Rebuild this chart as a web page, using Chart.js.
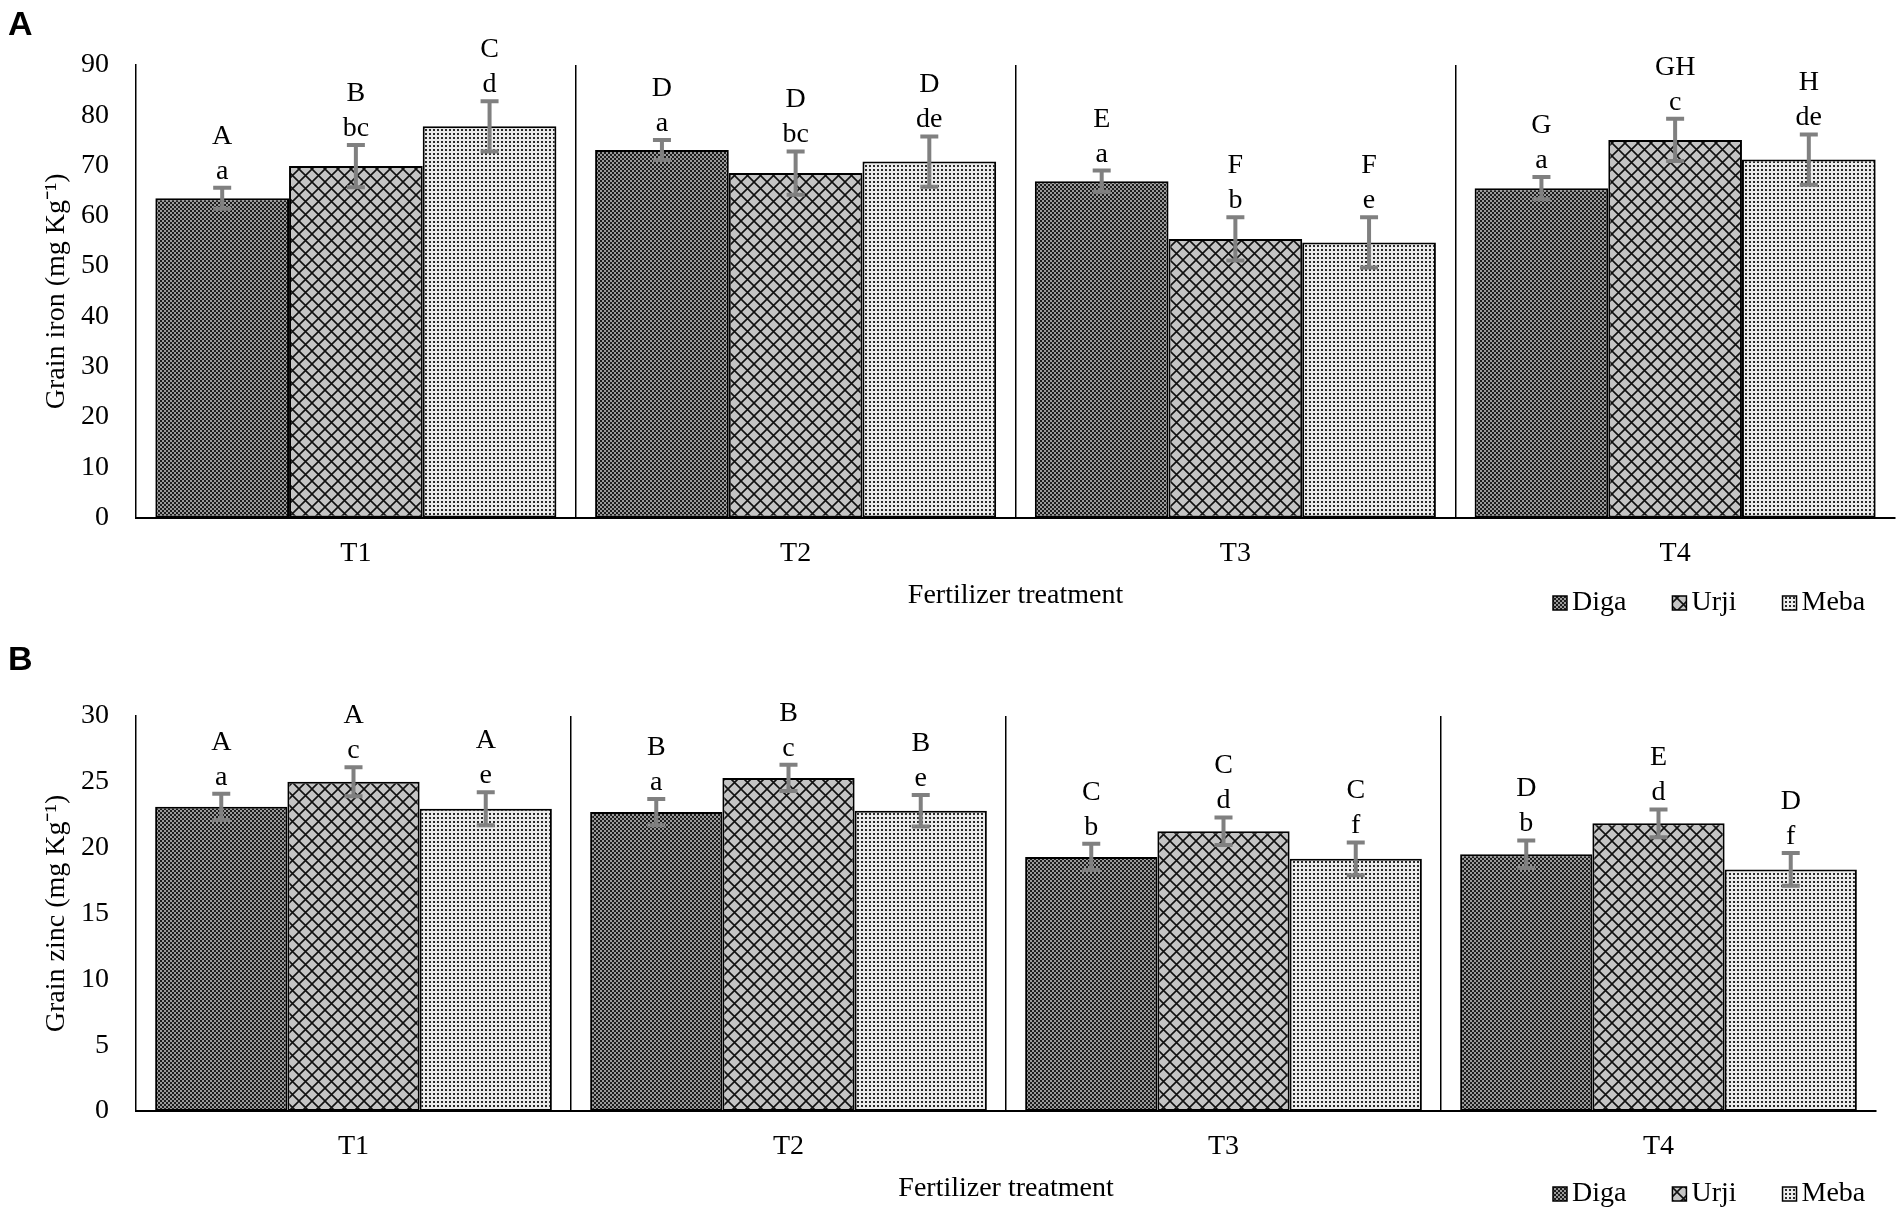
<!DOCTYPE html>
<html>
<head>
<meta charset="utf-8">
<script src="https://cdn.jsdelivr.net/npm/chart.js@4.4.1/dist/chart.umd.min.js"></script>
<style>
  body { margin: 0; background: #fff; }
  #page { position: relative; width: 1902px; height: 1216px; background: #fff; overflow: hidden; }
  .panel { position: absolute; left: 0; width: 1902px; }
  #panelA { top: 0; height: 620px; }
  #panelB { top: 620px; height: 596px; }
  .tag { position: absolute; left: 8px; font: bold 34px 'Liberation Sans', Arial, sans-serif; line-height: 34px; color: #000; }
</style>
</head>
<body>
<div id="page">
  <div class="panel" id="panelA"><canvas id="ironChart"></canvas></div>
  <div class="panel" id="panelB"><canvas id="zincChart"></canvas></div>
  <div class="tag" style="top:6px">A</div>
  <div class="tag" style="top:641px">B</div>
</div>
<script>
// categories and series
const treatments = ['T1', 'T2', 'T3', 'T4'];
const varieties = ['Diga', 'Urji', 'Meba'];

// grain iron (mg/kg) with error bars and letters
const ironDiga = [63.5, 73.1, 66.9, 65.5];
const ironUrji = [69.9, 68.5, 55.4, 75.1];
const ironMeba = [77.8, 70.8, 54.7, 71.2];
const ironDigaErr = [2.1, 2.0, 2.1, 2.2];
const ironUrjiErr = [4.2, 4.3, 4.3, 4.2];
const ironMebaErr = [5.0, 5.0, 5.0, 5.0];
const ironDigaUpper = ['A', 'D', 'E', 'G'];
const ironUrjiUpper = ['B', 'D', 'F', 'GH'];
const ironMebaUpper = ['C', 'D', 'F', 'H'];
const ironDigaLower = ['a', 'a', 'a', 'a'];
const ironUrjiLower = ['bc', 'bc', 'b', 'c'];
const ironMebaLower = ['d', 'de', 'e', 'de'];
const ironTicks = [0, 10, 20, 30, 40, 50, 60, 70, 80, 90];

// grain zinc (mg/kg)
const zincDiga = [23.1, 22.7, 19.3, 19.5];
const zincUrji = [25.0, 25.3, 21.25, 21.85];
const zincMeba = [22.95, 22.8, 19.15, 18.35];
const zincDigaErr = [1.0, 1.0, 1.0, 1.05];
const zincUrjiErr = [1.1, 1.0, 1.05, 1.05];
const zincMebaErr = [1.25, 1.2, 1.25, 1.25];
const zincDigaUpper = ['A', 'B', 'C', 'D'];
const zincUrjiUpper = ['A', 'B', 'C', 'E'];
const zincMebaUpper = ['A', 'B', 'C', 'D'];
const zincDigaLower = ['a', 'a', 'b', 'b'];
const zincUrjiLower = ['c', 'c', 'd', 'd'];
const zincMebaLower = ['e', 'e', 'f', 'f'];
const zincTicks = [0, 5, 10, 15, 20, 25, 30];

const SERIF = "'Liberation Serif', 'Times New Roman', serif";
const FONT_PX = 28;

function tile(w, h, paint) {
  const c = document.createElement('canvas');
  c.width = w;
  c.height = h;
  paint(c.getContext('2d'));
  return c;
}

// fill patterns, roughly like the Excel ones
function makePatterns(ctx) {
  const diga = tile(8, 8, g => {
    g.fillStyle = '#9a9a9a';
    g.fillRect(0, 0, 8, 8);
    g.fillStyle = '#1c1c1c';
    for (let y = 0; y < 4; y++) {
      for (let x = 0; x < 4; x++) {
        if ((x + y) % 2 === 0) g.fillRect(x * 2, y * 2, 2, 2);
      }
    }
  });
  const urji = tile(13, 13, g => {
    g.fillStyle = '#c4c4c4';
    g.fillRect(0, 0, 13, 13);
    g.strokeStyle = '#111';
    g.lineWidth = 1.6;
    g.beginPath();
    g.moveTo(-1, -1); g.lineTo(14, 14);
    g.moveTo(14, -1); g.lineTo(-1, 14);
    g.stroke();
  });
  const meba = tile(4, 4, g => {
    g.fillStyle = '#ececec';
    g.fillRect(0, 0, 4, 4);
    g.fillStyle = '#2a2a2a';
    g.fillRect(1, 1, 2, 2);
  });
  return [diga, urji, meba].map(c => ctx.createPattern(c, 'repeat'));
}

// error bars drawn from the dataset values through the y scale
const errorBars = {
  id: 'errorBars',
  afterDatasetsDraw(chart) {
    const ctx = chart.ctx;
    const y = chart.scales.y;
    ctx.save();
    ctx.strokeStyle = '#808080';
    ctx.lineWidth = 4;
    chart.data.datasets.forEach((ds, i) => {
      chart.getDatasetMeta(i).data.forEach((bar, j) => {
        const top = y.getPixelForValue(ds.data[j] + ds.errors[j]);
        const bot = y.getPixelForValue(ds.data[j] - ds.errors[j]);
        ctx.beginPath();
        ctx.moveTo(bar.x, top); ctx.lineTo(bar.x, bot);
        ctx.moveTo(bar.x - 9, top); ctx.lineTo(bar.x + 9, top);
        ctx.moveTo(bar.x - 9, bot); ctx.lineTo(bar.x + 9, bot);
        ctx.stroke();
      });
    });
    ctx.restore();
  }
};

// significance letters above each error bar
const letters = {
  id: 'letters',
  afterDatasetsDraw(chart) {
    const ctx = chart.ctx;
    const y = chart.scales.y;
    ctx.save();
    ctx.font = FONT_PX + 'px ' + SERIF;
    ctx.fillStyle = '#000';
    ctx.textAlign = 'center';
    ctx.textBaseline = 'alphabetic';
    chart.data.datasets.forEach((ds, i) => {
      chart.getDatasetMeta(i).data.forEach((bar, j) => {
        const top = y.getPixelForValue(ds.data[j] + ds.errors[j]);
        ctx.fillText(ds.lower[j], bar.x, top - 9);
        ctx.fillText(ds.upper[j], bar.x, top - 44);
      });
    });
    ctx.restore();
  }
};

// legend sitting on the same row as the axis title
const sideLegend = {
  id: 'sideLegend',
  afterDraw(chart, args, opts) {
    const ctx = chart.ctx;
    ctx.save();
    ctx.font = FONT_PX + 'px ' + SERIF;
    ctx.textBaseline = 'middle';
    ctx.textAlign = 'left';
    let x = opts.x;
    chart.data.datasets.forEach(ds => {
      ctx.fillStyle = ds.backgroundColor;
      ctx.fillRect(x, opts.y - 7, 14, 14);
      ctx.strokeStyle = '#000';
      ctx.lineWidth = 1.5;
      ctx.strokeRect(x, opts.y - 7, 14, 14);
      ctx.fillStyle = '#000';
      ctx.fillText(ds.label, x + 19, opts.y);
      x += 19 + ctx.measureText(ds.label).width + 46;
    });
    ctx.restore();
  }
};

function renderPanel(canvasId, p) {
  const canvas = document.getElementById(canvasId);
  const ctx = canvas.getContext('2d');
  const fills = makePatterns(ctx);

  const datasets = varieties.map((name, k) => ({
    label: name,
    data: p.values[k],
    errors: p.errors[k],
    upper: p.upper[k],
    lower: p.lower[k],
    backgroundColor: fills[k],
    borderColor: '#000',
    borderWidth: 2,
    borderSkipped: false,
    barPercentage: 1,
    categoryPercentage: 0.912
  }));

  new Chart(ctx, {
    type: 'bar',
    data: { labels: treatments, datasets },
    options: {
      responsive: true,
      maintainAspectRatio: false,
      animation: false,
      layout: { padding: { left: 0, right: p.padRight, top: p.padTop, bottom: 0 } },
      plugins: {
        legend: { display: false },
        tooltip: { enabled: false },
        sideLegend: { x: 1553, y: p.legendY }
      },
      scales: {
        x: {
          grid: {
            offset: true,
            drawTicks: false,
            lineWidth: 1.5,
            color: c => (c.index >= 1 ? '#000' : 'rgba(0,0,0,0)')
          },
          border: { display: true, color: '#000', width: 2 },
          ticks: { color: '#000', padding: 19, font: { family: SERIF, size: FONT_PX } },
          title: {
            display: true,
            text: 'Fertilizer treatment',
            color: '#000',
            font: { family: SERIF, size: FONT_PX },
            padding: { top: 0, bottom: p.titleGap }
          },
          afterFit: s => { s.height = p.xHeight; }
        },
        y: {
          min: 0,
          max: p.ticks[p.ticks.length - 1],
          afterBuildTicks: s => { s.ticks = p.ticks.map(v => ({ value: v })); },
          grid: { display: false, drawTicks: false },
          border: { display: true, color: '#000', width: 1.5 },
          ticks: { color: '#000', padding: 27, font: { family: SERIF, size: FONT_PX } },
          title: {
            display: true,
            text: p.yTitle,
            color: '#000',
            font: { family: SERIF, size: FONT_PX },
            padding: { top: 40, bottom: 0 }
          },
          afterFit: s => { s.width = 136; }
        }
      }
    },
    plugins: [errorBars, letters, sideLegend]
  });
}

renderPanel('ironChart', {
  values: [ironDiga, ironUrji, ironMeba],
  errors: [ironDigaErr, ironUrjiErr, ironMebaErr],
  upper: [ironDigaUpper, ironUrjiUpper, ironMebaUpper],
  lower: [ironDigaLower, ironUrjiLower, ironMebaLower],
  ticks: ironTicks,
  yTitle: 'Grain iron (mg Kg\u207B\u00B9)',
  padTop: 65,
  padRight: 7,
  xHeight: 102.5,
  titleGap: 8,
  legendY: 603
});

renderPanel('zincChart', {
  values: [zincDiga, zincUrji, zincMeba],
  errors: [zincDigaErr, zincUrjiErr, zincMebaErr],
  upper: [zincDigaUpper, zincUrjiUpper, zincMebaUpper],
  lower: [zincDigaLower, zincUrjiLower, zincMebaLower],
  ticks: zincTicks,
  yTitle: 'Grain zinc (mg Kg\u207B\u00B9)',
  padTop: 96,
  padRight: 26,
  xHeight: 105,
  titleGap: 11,
  legendY: 574
});
</script>
</body>
</html>
